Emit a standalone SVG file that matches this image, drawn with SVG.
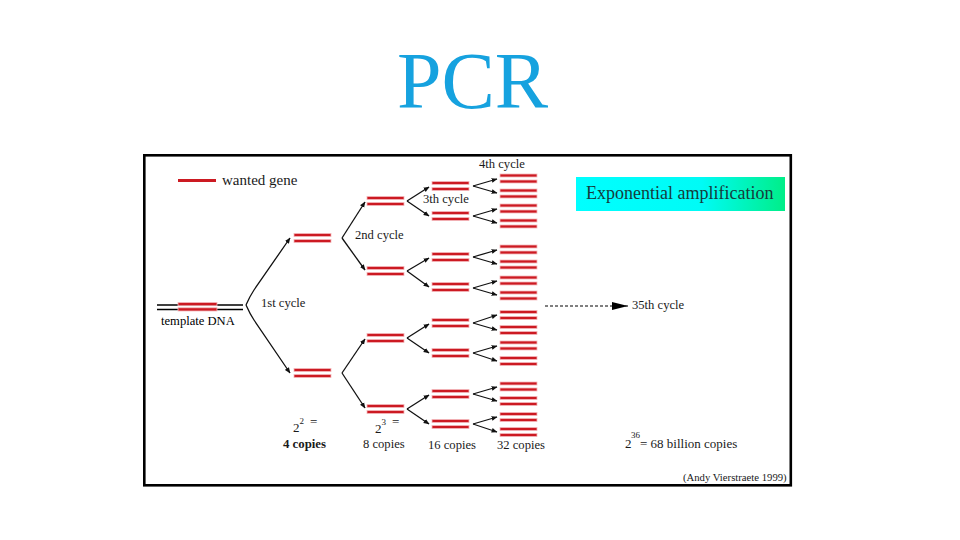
<svg xmlns="http://www.w3.org/2000/svg" xmlns:xlink="http://www.w3.org/1999/xlink" width="960" height="540" viewBox="0 0 960 540">
<style>
text{font-family:"Liberation Serif","Times New Roman",serif;fill:#1a1a1a}
.lbl{font-size:12.6px}
.bar{fill:#cc1a22;stroke:#f4b9bc;stroke-width:0.8}
.con{fill:none;stroke:#111;stroke-width:1.3}
</style>
<defs>
<marker id="ah" viewBox="0 0 10 10" refX="9" refY="5" markerWidth="6" markerHeight="6" markerUnits="userSpaceOnUse" orient="auto">
<path d="M0,1 L10,5 L0,9 z" fill="#111"/>
</marker>
<marker id="big" viewBox="0 0 10 10" refX="10" refY="5" markerWidth="16" markerHeight="8" markerUnits="userSpaceOnUse" orient="auto" preserveAspectRatio="none">
<path d="M0,0 L10,5 L0,10 z" fill="#000"/>
</marker>
<g id="pair">
<rect class="bar" x="0" y="-4.5" width="37" height="3"/>
<rect class="bar" x="0" y="1.5" width="37" height="3"/>
</g>
<linearGradient id="grad" x1="0" y1="0" x2="1" y2="0">
<stop offset="0" stop-color="#00ffff"/>
<stop offset="0.6" stop-color="#00fbf6"/>
<stop offset="1" stop-color="#00ee88"/>
</linearGradient>
</defs>
<rect width="960" height="540" fill="#fff"/>
<text x="397" y="108" style="font-size:80px;fill:#16a2df">PCR</text>
<rect x="144.3" y="155.3" width="646.5" height="330" fill="#fff" stroke="#000" stroke-width="2.6"/>

<g id="legend">
<line x1="178" y1="180.5" x2="216" y2="180.5" stroke="#cc1a22" stroke-width="3"/>
<text x="222" y="185" style="font-size:15px">wanted gene</text>
</g>

<g id="template">
<line x1="157" y1="305" x2="243" y2="305" stroke="#000" stroke-width="1.3"/>
<line x1="157" y1="309.5" x2="243" y2="309.5" stroke="#000" stroke-width="1.3"/>
<rect class="bar" x="178" y="302.5" width="39" height="3.2"/>
<rect class="bar" x="178" y="307.8" width="39" height="3.2"/>
<text class="lbl" x="161" y="325" style="fill:#000">template DNA</text>
</g>

<g id="gen1">
<use xlink:href="#pair" x="294" y="238"/>
<use xlink:href="#pair" x="294" y="373"/>
</g>
<g id="gen2">
<use xlink:href="#pair" x="367" y="201"/>
<use xlink:href="#pair" x="367" y="271"/>
<use xlink:href="#pair" x="367" y="338"/>
<use xlink:href="#pair" x="367" y="409"/>
</g>
<g id="gen3">
<use xlink:href="#pair" x="432" y="186"/>
<use xlink:href="#pair" x="432" y="216"/>
<use xlink:href="#pair" x="432" y="257"/>
<use xlink:href="#pair" x="432" y="287"/>
<use xlink:href="#pair" x="432" y="323"/>
<use xlink:href="#pair" x="432" y="353"/>
<use xlink:href="#pair" x="432" y="394"/>
<use xlink:href="#pair" x="432" y="424"/>
</g>
<g id="gen4">
<use xlink:href="#pair" x="500" y="178.5"/>
<use xlink:href="#pair" x="500" y="193.5"/>
<use xlink:href="#pair" x="500" y="208.5"/>
<use xlink:href="#pair" x="500" y="223.5"/>
<use xlink:href="#pair" x="500" y="249.5"/>
<use xlink:href="#pair" x="500" y="264.5"/>
<use xlink:href="#pair" x="500" y="280.5"/>
<use xlink:href="#pair" x="500" y="295.5"/>
<use xlink:href="#pair" x="500" y="315"/>
<use xlink:href="#pair" x="500" y="330"/>
<use xlink:href="#pair" x="500" y="345.5"/>
<use xlink:href="#pair" x="500" y="361"/>
<use xlink:href="#pair" x="500" y="386.5"/>
<use xlink:href="#pair" x="500" y="401"/>
<use xlink:href="#pair" x="500" y="417"/>
<use xlink:href="#pair" x="500" y="432"/>
</g>

<g id="connectors">
<path class="con" marker-end="url(#ah)" d="M246,305 Q250,296 254,290 L290,238"/>
<path class="con" marker-end="url(#ah)" d="M246,305 Q250,314 254,320 L290,373"/>
<path class="con" marker-end="url(#ah)" d="M342,238 L365,202"/>
<path class="con" marker-end="url(#ah)" d="M342,238 L365,270"/>
<path class="con" marker-end="url(#ah)" d="M342,373 L365,339"/>
<path class="con" marker-end="url(#ah)" d="M342,373 L365,408"/>
<path class="con" marker-end="url(#ah)" d="M407,201 L429,187"/>
<path class="con" marker-end="url(#ah)" d="M407,201 L429,216"/>
<path class="con" marker-end="url(#ah)" d="M407,271 L429,258"/>
<path class="con" marker-end="url(#ah)" d="M407,271 L429,287"/>
<path class="con" marker-end="url(#ah)" d="M407,338 L429,324"/>
<path class="con" marker-end="url(#ah)" d="M407,338 L429,353"/>
<path class="con" marker-end="url(#ah)" d="M407,409 L429,395"/>
<path class="con" marker-end="url(#ah)" d="M407,409 L429,424"/>
<path class="con" marker-end="url(#ah)" d="M473,186 L497,179"/>
<path class="con" marker-end="url(#ah)" d="M473,186 L497,193"/>
<path class="con" marker-end="url(#ah)" d="M473,216 L497,209"/>
<path class="con" marker-end="url(#ah)" d="M473,216 L497,223"/>
<path class="con" marker-end="url(#ah)" d="M473,257 L497,250"/>
<path class="con" marker-end="url(#ah)" d="M473,257 L497,264"/>
<path class="con" marker-end="url(#ah)" d="M473,288 L497,281"/>
<path class="con" marker-end="url(#ah)" d="M473,288 L497,295"/>
<path class="con" marker-end="url(#ah)" d="M473,323 L497,315"/>
<path class="con" marker-end="url(#ah)" d="M473,323 L497,330"/>
<path class="con" marker-end="url(#ah)" d="M473,353 L497,346"/>
<path class="con" marker-end="url(#ah)" d="M473,353 L497,361"/>
<path class="con" marker-end="url(#ah)" d="M473,394 L497,387"/>
<path class="con" marker-end="url(#ah)" d="M473,394 L497,401"/>
<path class="con" marker-end="url(#ah)" d="M473,424 L497,417"/>
<path class="con" marker-end="url(#ah)" d="M473,424 L497,432"/>
<line x1="545" y1="306" x2="628" y2="306" stroke="#000" stroke-width="1" stroke-dasharray="3,2" marker-end="url(#big)"/>
</g>

<g id="labels">
<text class="lbl" x="261" y="307">1st cycle</text>
<text class="lbl" x="355" y="239">2nd cycle</text>
<text class="lbl" x="423" y="203">3th cycle</text>
<text class="lbl" x="479" y="168">4th cycle</text>
<text class="lbl" x="632" y="309">35th cycle</text>
<text style="font-size:13px" x="293" y="432">2</text>
<text style="font-size:9px" x="299.5" y="424">2</text>
<text style="font-size:13px" x="310" y="426">=</text>
<text style="font-size:12.8px;font-weight:bold" x="283" y="448">4 copies</text>
<text style="font-size:13px" x="375" y="433">2</text>
<text style="font-size:9px" x="381.5" y="425">3</text>
<text style="font-size:13px" x="392" y="426">=</text>
<text class="lbl" x="363" y="448">8 copies</text>
<text class="lbl" x="428" y="449">16 copies</text>
<text class="lbl" x="497" y="449">32 copies</text>
<text style="font-size:13px" x="625" y="448">2</text>
<text style="font-size:9px" x="631" y="438">36</text>
<text style="font-size:13px" x="640" y="448">= 68 billion copies</text>
<text style="font-size:10.7px" x="683" y="481">(Andy Vierstraete 1999)</text>
</g>

<g id="banner">
<rect x="576" y="177" width="209" height="34" fill="url(#grad)"/>
<text x="586" y="199" style="font-size:18px;fill:#163c3c">Exponential amplification</text>
</g>
</svg>
